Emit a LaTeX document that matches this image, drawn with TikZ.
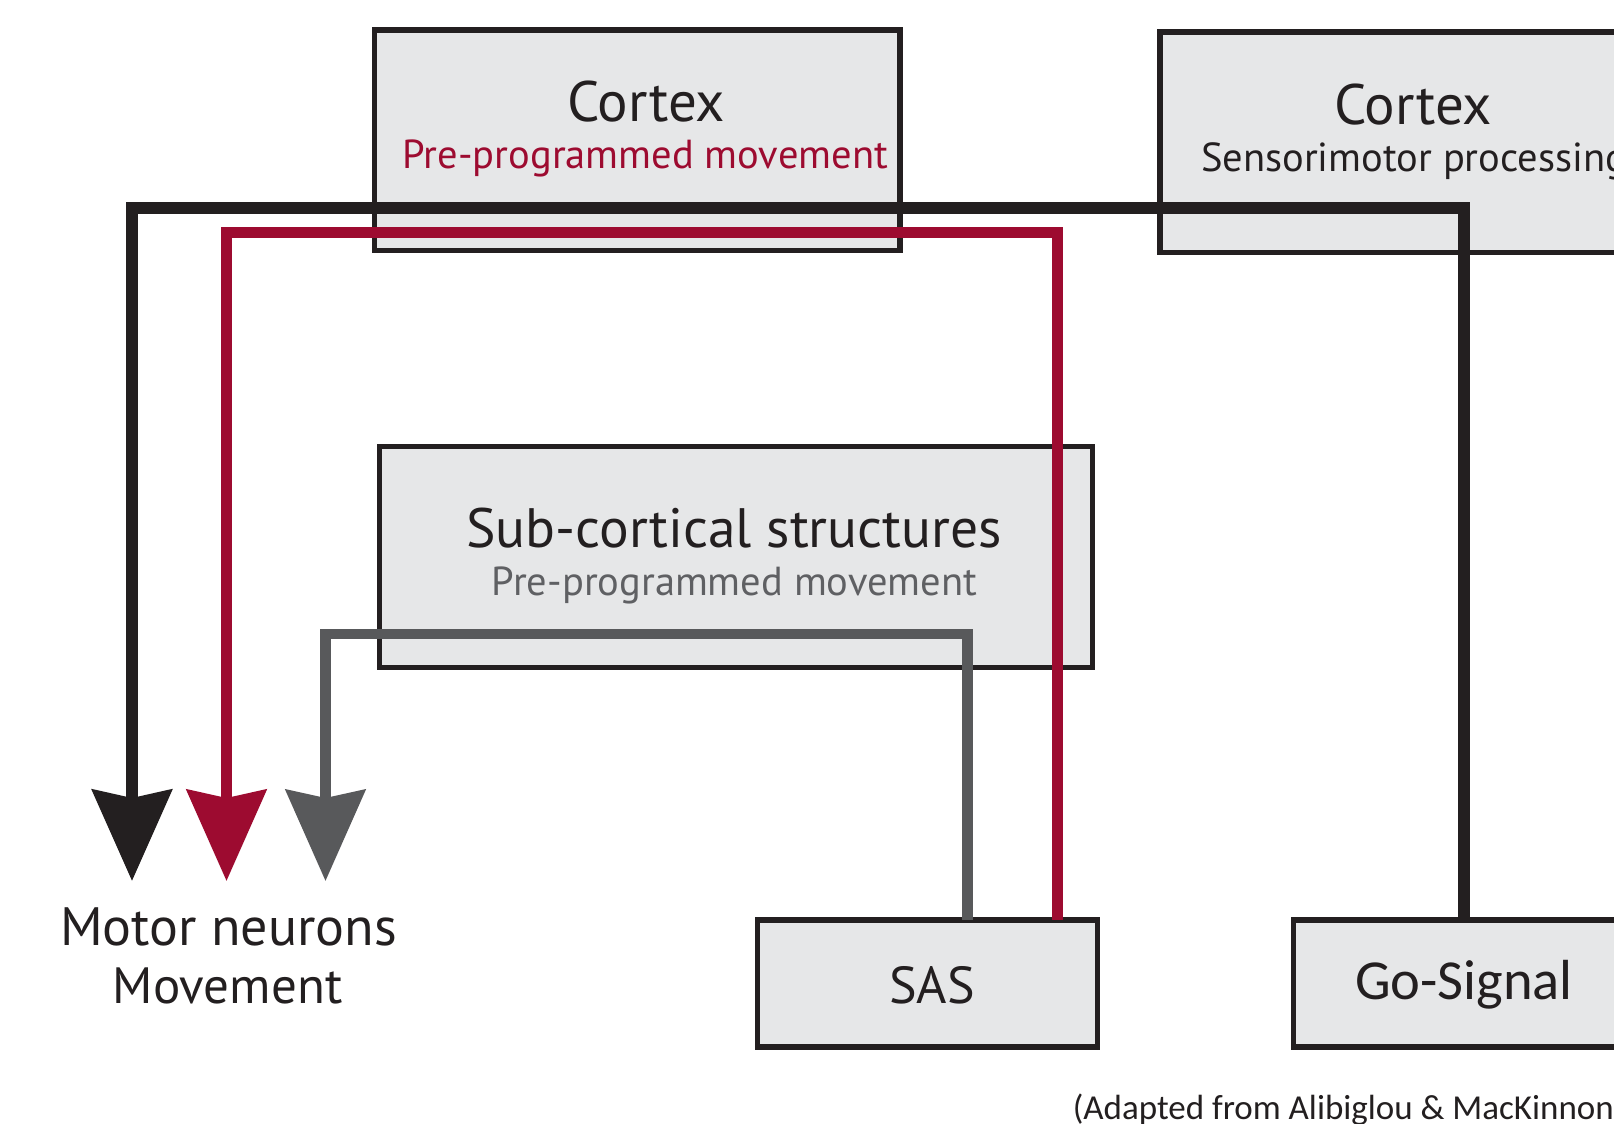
\documentclass[tikz,border=0pt]{standalone}
\usepackage{fontspec}
\setmainfont{PT Sans}
\newfontfamily\calfont{Carlito}
\usetikzlibrary{arrows.meta,calc}
\definecolor{ink}{RGB}{35,31,32}
\definecolor{wine}{RGB}{157,11,48}
\definecolor{slate}{RGB}{88,89,91}
\definecolor{boxfill}{RGB}{230,231,232}
\definecolor{subgray}{RGB}{95,96,99}
\begin{document}
\begin{tikzpicture}[x=1pt,y=-1pt,
  box/.style={draw=ink,fill=boxfill,line width=5.5pt,rectangle,inner sep=0pt,outer sep=0pt},
  big/.style={font=\fontsize{54}{60}\selectfont,text=ink,anchor=base,inner sep=0pt},
  small/.style={font=\fontsize{40.5}{45}\selectfont,anchor=base,inner sep=0pt},
  conn/.style={line width=#1,line join=miter,line cap=butt},
  tipped/.style={-{Stealth[length=91pt,width=79pt,inset=8pt]}}
]
\useasboundingbox (0,0) rectangle (1614,1124);
\clip (0,0) rectangle (1614,1124);
\fill[white] (0,0) rectangle (1614,1124);

% boxes
\node[box,minimum width=525.5pt,minimum height=220.5pt] (c1) at (637.1,140.2) {};
\node[box,minimum width=506.5pt,minimum height=220.5pt] (c2) at (1413,142.2) {};
\node[box,minimum width=712.8pt,minimum height=220.8pt] (sub) at (735.95,556.85) {};
\node[box,minimum width=340.2pt,minimum height=127.1pt] (sas) at (927.45,983.5) {};
\node[box,minimum width=340.9pt,minimum height=127.1pt] (go) at (1464,983.5) {};

% texts
\node[big,font=\fontsize{57}{60}\selectfont] (c1t) at (646,121) {Cortex};
\node[small,text=wine] (c1s) at (645.3,168) {Pre-programmed movement};
\node[big,font=\fontsize{57}{60}\selectfont] (c2t) at (1413,124.5) {Cortex};
\node[small,text=ink,anchor=base west] (c2s) at (1201,171) {Sensorimotor processing};
\node[big,font=\fontsize{55.5}{60}\selectfont] (subt) at (734,547.5) {Sub-cortical structures};
\node[small,text=subgray] (subs) at (734.5,595) {Pre-programmed movement};
\node[big] (mn1) at (228.5,945) {Motor neurons};
\node[big,font=\fontsize{51}{60}\selectfont] (mn2) at (227.5,1003) {Movement};
\node[big,font=\fontsize{52}{60}\selectfont] (sast) at (932,1003.6) {SAS};
\node[big,font=\calfont\fontsize{56.5}{60}\selectfont] (got) at (1464,999.5) {Go-Signal};
\node[anchor=base west,inner sep=0pt,font=\calfont\fontsize{35}{40}\selectfont,text=ink] (src) at (1072.6,1119) {(Adapted from Alibiglou \& MacKinnon};

% arrow tips
\coordinate (tk) at (132,881);
\coordinate (tr) at (226.5,881);
\coordinate (tg) at (325.5,881);

% connectors
\draw[conn=12pt,ink,tipped] (go.north) -- (go.north |- 0,208) -| (tk);
\draw[conn=11pt,wine,tipped] ([xshift=129.6pt]sas.north) |- (tr |- 0,232.6) -- (tr);
\draw[conn=10.5pt,slate,tipped] ([xshift=40.2pt]sas.north) |- (tg |- 0,634) -- (tg);
\end{tikzpicture}
\end{document}
